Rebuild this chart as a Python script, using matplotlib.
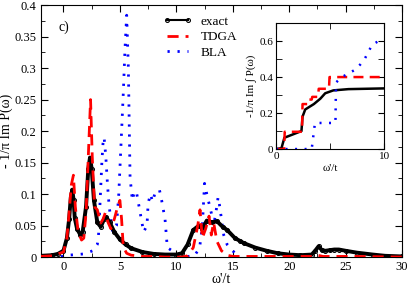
import matplotlib
matplotlib.use("Agg")
import matplotlib.pyplot as plt
from matplotlib.ticker import MultipleLocator, FuncFormatter

plt.rcParams["font.family"] = ["Liberation Serif", "DejaVu Serif"]
plt.rcParams["mathtext.fontset"] = "stix"

# main panel: spectral function
exact_x = [-2, -1, -0.5, 0, 0.3, 0.5, 0.65, 0.78, 0.9, 1.0, 1.2, 1.5, 1.7, 2.0, 2.2, 2.35,
           2.5, 2.7, 3.0, 3.3, 3.6, 3.8, 4.1, 4.5, 5, 5.5, 6, 7, 8, 9, 10, 10.5, 11, 11.5,
           12, 12.3, 12.7, 13.2, 13.6, 14.1, 14.5, 15.2, 15.6, 16, 17, 18, 19, 20, 21, 22,
           22.3, 22.6, 22.9, 23.2, 23.6, 24, 24.4, 25, 26, 27.4, 28.5, 30]
exact_y = [0.002, 0.003, 0.005, 0.01, 0.03, 0.06, 0.095, 0.107, 0.09, 0.062, 0.045, 0.035,
           0.04, 0.08, 0.14, 0.158, 0.14, 0.09, 0.055, 0.048, 0.06, 0.063, 0.055, 0.04,
           0.028, 0.02, 0.014, 0.008, 0.005, 0.004, 0.004, 0.006, 0.02, 0.043, 0.05, 0.045,
           0.058, 0.055, 0.057, 0.048, 0.043, 0.03, 0.026, 0.022, 0.015, 0.01, 0.006, 0.004,
           0.003, 0.004, 0.01, 0.017, 0.011, 0.01, 0.011, 0.012, 0.012, 0.01, 0.007, 0.004,
           0.002, 0.001]

tdga_x = [-2, -1, 0, 0.3, 0.5, 0.7, 0.88, 1.05, 1.3, 1.6, 1.8, 2.0, 2.2, 2.4, 2.55, 2.75,
          3.0, 3.3, 3.5, 3.7, 3.95, 4.2, 4.5, 4.8, 5.0, 5.15, 5.3, 5.6, 6, 7, 8, 9, 10, 10.5,
          11, 11.5, 11.9, 12.1, 12.3, 12.6, 12.9, 13.1, 13.3, 13.6, 14.0, 14.5, 15, 18, 22,
          22.5, 23, 26, 30]
tdga_y = [0.001, 0.002, 0.008, 0.03, 0.07, 0.115, 0.13, 0.08, 0.04, 0.027, 0.03, 0.07,
          0.16, 0.25, 0.16, 0.08, 0.075, 0.054, 0.06, 0.07, 0.055, 0.045, 0.06, 0.08, 0.09,
          0.06, 0.016, 0.006, 0.003, 0.001, 0.001, 0.0, 0.0, 0.0, 0.002, 0.015, 0.05,
          0.075, 0.03, 0.045, 0.065, 0.035, 0.055, 0.025, 0.01, 0.003, 0.001, 0.001, 0.001,
          0.003, 0.001, 0.001, 0.0]

bla_x = [-2, 0, 0.4, 1.2, 1.8, 2.6, 3.0, 3.1, 3.25, 3.4, 3.5, 3.6, 3.75, 3.9, 4.05, 4.2,
         4.35, 4.5, 4.7, 4.9, 5.1, 5.3, 5.45, 5.6, 5.75, 5.9, 6.1, 6.3, 6.5, 6.8, 7.1, 7.4,
         7.5, 7.7, 7.9, 8.1, 8.3, 8.5, 8.7, 9.0, 9.2, 9.8, 10.4, 11.0, 11.6, 11.9, 12.1,
         12.3, 12.5, 12.7, 12.9, 13.1, 13.3, 13.5, 13.7, 13.85, 14.0, 14.2, 14.5, 15.0, 15.4]
bla_y = [0.0, 0.001, 0.003, 0.004, 0.005, 0.01, 0.02, 0.033, 0.09, 0.15, 0.18, 0.19, 0.16,
         0.115, 0.08, 0.06, 0.04, 0.045, 0.05, 0.1, 0.18, 0.26, 0.33, 0.384, 0.3, 0.127,
         0.09, 0.105, 0.1, 0.07, 0.04, 0.05, 0.085, 0.1, 0.088, 0.101, 0.103, 0.107, 0.09,
         0.06, 0.015, 0.008, 0.003, 0.001, 0.002, 0.01, 0.02, 0.048, 0.117, 0.1, 0.085,
         0.07, 0.05, 0.07, 0.095, 0.08, 0.06, 0.035, 0.02, 0.01, 0.002]

# inset: integrated weight
int_exact_x = [0, 0.5, 0.77, 1.5, 2.35, 2.45, 2.7, 3.5, 4.1, 4.55, 5.3, 6.7, 10]
int_exact_y = [0, 0.005, 0.063, 0.08, 0.1, 0.18, 0.22, 0.25, 0.28, 0.31, 0.326, 0.333, 0.337]
int_tdga_x = [0, 0.75, 0.8, 2.4, 2.45, 3.0, 3.05, 3.3, 3.35, 3.9, 3.95, 4.9, 4.95, 10]
int_tdga_y = [0, 0.0, 0.096, 0.096, 0.25, 0.25, 0.275, 0.275, 0.29, 0.29, 0.335, 0.335, 0.4, 0.4]
int_bla_x = [0, 3.3, 3.6, 5.5, 5.55, 6.1, 6.7, 7.3, 7.8, 8.2, 8.9, 9.5, 10]
int_bla_y = [0, 0.0, 0.145, 0.145, 0.37, 0.4, 0.42, 0.44, 0.47, 0.5, 0.58, 0.6, 0.6]

gfmt = FuncFormatter(lambda v, p: "%g" % round(v, 3))

fig = plt.figure(figsize=(4.09, 2.85), dpi=100)
ax = fig.add_axes([0.100, 0.098, 0.883, 0.884])

ax.plot(exact_x, exact_y, color="black", lw=2.8, marker="o", ms=2.8, mfc="none", mew=0.8,
        label="exact", zorder=3)
ax.plot(tdga_x, tdga_y, color="red", lw=2, ls=(0, (4, 2.5)), label="TDGA", zorder=4)
ax.plot(bla_x, bla_y, color="blue", lw=2, ls=(0, (0.8, 2.8)), label="BLA", zorder=2)

ax.set_xlim(-2, 30)
ax.set_ylim(0, 0.4)
ax.xaxis.set_major_locator(MultipleLocator(5))
ax.xaxis.set_minor_locator(MultipleLocator(2.5))
ax.yaxis.set_major_locator(MultipleLocator(0.05))
ax.yaxis.set_minor_locator(MultipleLocator(0.025))
ax.yaxis.set_major_formatter(gfmt)
ax.tick_params(which="both", direction="in", top=True, right=True, labelsize=9, pad=3)
ax.tick_params(which="major", length=5)
ax.tick_params(which="minor", length=3)
ax.set_xlabel("ω'/t", fontsize=10, labelpad=0)
ax.set_ylabel("- 1/π Im P(ω)", fontsize=10, labelpad=1)
ax.text(0.05, 0.94, "c)", transform=ax.transAxes, fontsize=10, va="top")

leg = ax.legend(loc="upper left", bbox_to_anchor=(0.31, 1.0), frameon=False, fontsize=9.5,
                handlelength=2.2, numpoints=2, labelspacing=0.25, handletextpad=0.6,
                borderaxespad=0.4)
leg.legend_handles[0].set_linewidth(1.5)

ins = fig.add_axes([0.675, 0.477, 0.264, 0.442])
ins.plot(int_exact_x, int_exact_y, color="black", lw=1.8)
ins.plot(int_tdga_x, int_tdga_y, color="red", lw=1.8, ls=(0, (4, 2.5)))
ins.plot(int_bla_x, int_bla_y, color="blue", lw=1.8, ls=(0, (0.8, 3)))
ins.set_xlim(0, 10)
ins.set_ylim(0, 0.7)
ins.set_xticks([0, 10])
ins.xaxis.set_minor_locator(MultipleLocator(5))
ins.set_yticks([0, 0.2, 0.4, 0.6])
ins.yaxis.set_major_formatter(gfmt)
ins.yaxis.set_minor_locator(MultipleLocator(0.1))
ins.tick_params(which="both", direction="in", top=True, right=True, labelsize=8, pad=2)
ins.tick_params(which="major", length=4)
ins.tick_params(which="minor", length=4)
ins.set_xlabel("ω'/t", fontsize=8, labelpad=2)
ins.set_ylabel("-1/π Im ∫ P(ω)", fontsize=8, labelpad=2)

fig.savefig("out.png", dpi=100)
